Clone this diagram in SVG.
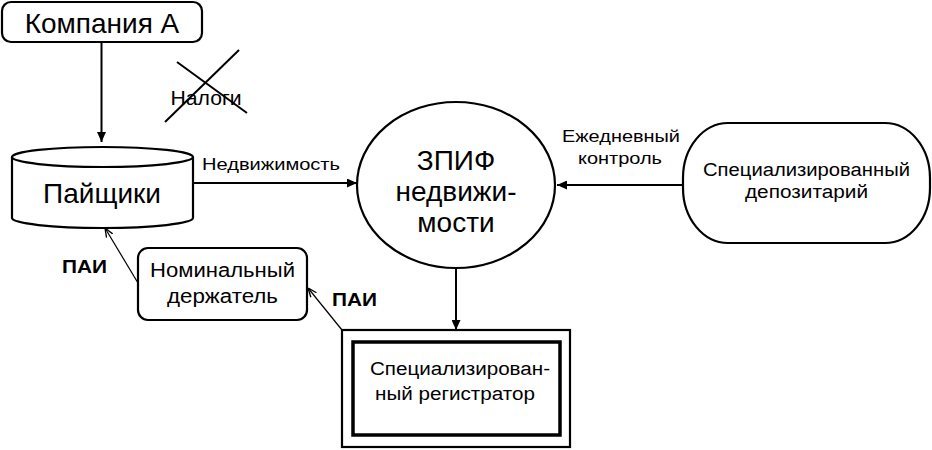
<svg xmlns="http://www.w3.org/2000/svg" width="932" height="450" viewBox="0 0 932 450">
<defs>
<marker id="ah" viewBox="0 0 10 10" refX="10" refY="5" markerWidth="10" markerHeight="9" markerUnits="userSpaceOnUse" orient="auto" preserveAspectRatio="none"><path d="M0,0 L10,5 L0,10 Z" fill="#000"/></marker>
<marker id="ah2" viewBox="0 0 10 10" refX="10" refY="5" markerWidth="9" markerHeight="9" markerUnits="userSpaceOnUse" orient="auto"><path d="M0,1 L10,5 L0,9" fill="none" stroke="#000" stroke-width="1.5"/></marker>
<style>
text{font-family:"Liberation Sans",Arial,sans-serif;fill:#000;text-anchor:middle}
.shape{fill:#fff;stroke:#000;stroke-width:2.2}
.conn{fill:none;stroke:#000;stroke-width:2}
.thin{fill:none;stroke:#000;stroke-width:1.2}
.b{font-weight:bold}
</style>
</defs>
<rect width="932" height="450" fill="#fff"/>
<g id="connectors">
<line class="conn" x1="101.5" y1="42" x2="101.5" y2="142" marker-end="url(#ah)"/>
<line class="conn" x1="193" y1="183" x2="357" y2="183" marker-end="url(#ah)"/>
<line class="conn" x1="683" y1="185" x2="557" y2="185" marker-end="url(#ah)"/>
<line class="conn" x1="456" y1="268" x2="456" y2="330" marker-end="url(#ah)"/>
<line class="thin" x1="138" y1="283" x2="105" y2="228" marker-end="url(#ah2)"/>
<line class="thin" x1="342" y1="330" x2="308" y2="288" marker-end="url(#ah2)"/>
<text x="271" y="170" font-size="17" textLength="138" lengthAdjust="spacingAndGlyphs">Недвижимость</text>
<text x="621" y="142" font-size="17" textLength="118" lengthAdjust="spacingAndGlyphs">Ежедневный</text>
<text x="620" y="164" font-size="17" textLength="84" lengthAdjust="spacingAndGlyphs">контроль</text>
<text class="b" x="84.5" y="273" font-size="19" textLength="45" lengthAdjust="spacingAndGlyphs">ПАИ</text>
<text class="b" x="354.5" y="306" font-size="19" textLength="45" lengthAdjust="spacingAndGlyphs">ПАИ</text>
</g>
<g id="taxes">
<text x="206" y="105" font-size="21" textLength="71" lengthAdjust="spacingAndGlyphs">Налоги</text>
<line x1="177" y1="62" x2="247" y2="113" stroke="#000" stroke-width="2"/>
<line x1="239" y1="50" x2="165" y2="122" stroke="#000" stroke-width="2"/>
</g>
<g id="company">
<rect class="shape" x="2" y="2" width="200" height="40" rx="9"/>
<text x="102" y="33" font-size="28">Компания А</text>
</g>
<g id="shareholders">
<path class="shape" d="M12,157 A90.5,10 0 0 1 193,157 L193,218 A90.5,10 0 0 1 12,218 Z"/>
<path class="conn" style="stroke-width:2.2" d="M12,157 A90.5,10 0 0 0 193,157"/>
<text x="102" y="203" font-size="28">Пайщики</text>
</g>
<g id="fund">
<ellipse class="shape" cx="456" cy="185" rx="99" ry="83"/>
<text x="456" y="170" font-size="28">ЗПИФ</text>
<text x="456" y="201" font-size="28">недвижи-</text>
<text x="456" y="232" font-size="28">мости</text>
</g>
<g id="depositary">
<rect class="shape" x="683" y="123" width="247" height="120" rx="45" ry="55"/>
<text x="806.5" y="176" font-size="18" textLength="207" lengthAdjust="spacingAndGlyphs">Специализированный</text>
<text x="806.5" y="198" font-size="18" textLength="123" lengthAdjust="spacingAndGlyphs">депозитарий</text>
</g>
<g id="nominee">
<rect class="shape" x="138" y="248" width="169" height="72" rx="10"/>
<text x="222.5" y="277" font-size="20" textLength="145" lengthAdjust="spacingAndGlyphs">Номинальный</text>
<text x="222.5" y="303" font-size="20" textLength="111" lengthAdjust="spacingAndGlyphs">держатель</text>
</g>
<g id="registrar">
<rect class="shape" x="342" y="330" width="228" height="117"/>
<rect class="shape" x="353" y="342" width="207" height="93" style="stroke-width:3.5"/>
<text x="460" y="375" font-size="18" textLength="180" lengthAdjust="spacingAndGlyphs">Специализирован-</text>
<text x="455" y="400" font-size="18" textLength="160" lengthAdjust="spacingAndGlyphs">ный регистратор</text>
</g>
</svg>
